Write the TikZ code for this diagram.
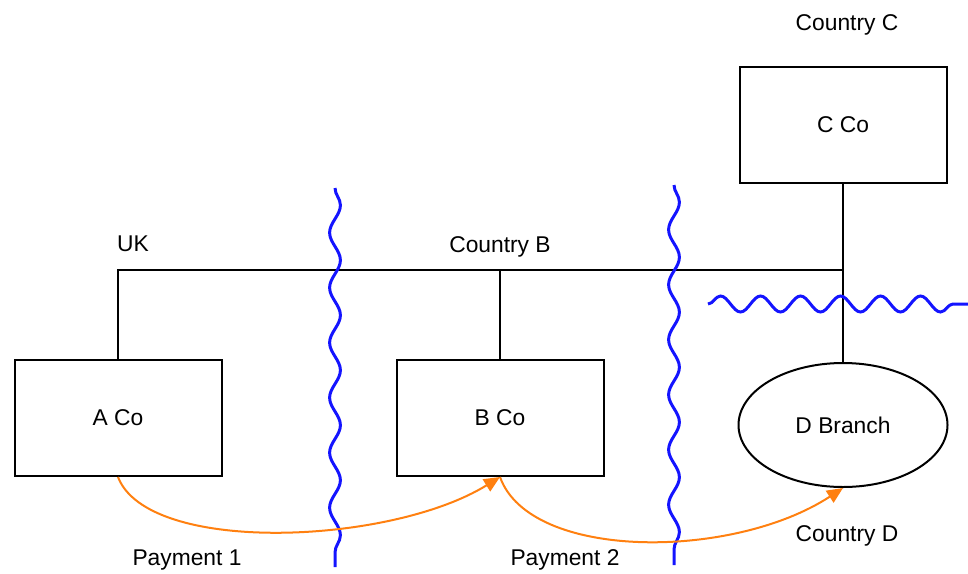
\documentclass[tikz,border=0pt]{standalone}
\usepackage{fontspec}
\setmainfont{Liberation Sans}
\usetikzlibrary{positioning,arrows.meta,shapes.geometric,decorations.pathmorphing}
\definecolor{payorange}{RGB}{255,128,16}
\definecolor{borderblue}{RGB}{20,20,255}

\begin{document}
\begin{tikzpicture}[
  x=0.5pt, y=-0.5pt,
  font=\fontsize{11.4}{13}\selectfont,
  >={Triangle[length=8pt,width=7pt]},
  firm/.style={draw=black, line width=1pt, minimum width=103.5pt, minimum height=58pt, inner sep=0pt},
  branch/.style={ellipse, draw=black, line width=1pt, minimum width=104.5pt, minimum height=62pt, inner sep=0pt},
  tie/.style={-, line width=1pt, draw=black},
  border/.style={draw=borderblue, line width=1.5pt, decorate,
    decoration={snake, segment length=27.5pt, amplitude=2.7pt}},
  pay/.style={->, draw=payorange, line width=1pt},
  lbl/.style={inner sep=0pt},
]
\useasboundingbox (0,0) rectangle (968,573);

% ---- entities ----
\node[firm] (aco) at (118,418) {A Co};
\node[firm] (bco) at (500,418) {B Co};
\node[firm] (cco) at (843,125) {C Co};
\node[branch] (dbr) at (843,425) {D Branch};

% ---- country labels ----
\node[lbl] (uk)   at (133,244) {UK};
\node[lbl] (ctyb) at (500,247) {Country B};
\node[lbl] (ctyc) at (847,25)  {Country C};
\node[lbl] (ctyd) at (847,536) {Country D};

% ---- ownership lines ----
\coordinate (hub) at (843,270);
\draw[tie] (aco.north) |- (hub);
\draw[tie] (bco.north) -- (bco.north |- hub);
\draw[tie] (cco.south) -- (dbr.north);

% ---- borders ----
\coordinate (w1a) at (335,188); \coordinate (w1b) at (335,567);
\coordinate (w2a) at (674,185); \coordinate (w2b) at (674,565);
\coordinate (w3a) at (708,304); \coordinate (w3b) at (968,304);
\draw[border] (w1a) -- (w1b);
\draw[border] (w2a) -- (w2b);
\draw[border, decoration={snake, segment length=20pt, amplitude=4pt}] (w3a) -- (w3b);

% ---- payments ----
\draw[pay] (aco.south) .. controls +(30,78) and +(-110,68) .. (bco.south);
\draw[pay] (bco.south) .. controls +(30,84) and +(-110,72) .. (dbr.south);
\node[lbl] (pay1) at (187,560) {Payment 1};
\node[lbl] (pay2) at (565,560) {Payment 2};
\end{tikzpicture}
\end{document}
